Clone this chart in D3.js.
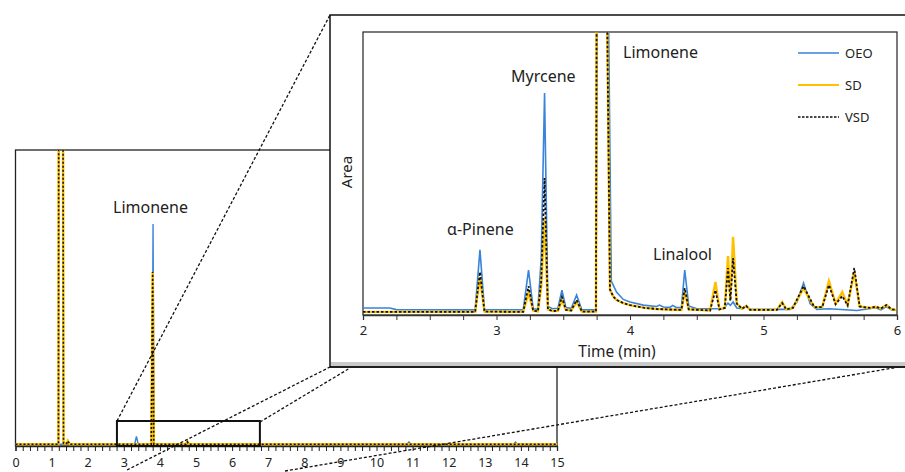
<!DOCTYPE html>
<html><head><meta charset="utf-8">
<script src="https://cdn.jsdelivr.net/npm/d3@7"></script>
<style>body{margin:0;background:#fff}svg{display:block}</style>
</head><body>
<svg id="c" width="905" height="472"></svg>
<script>
// ---------- data ----------
const seriesNames = ["OEO", "SD", "VSD"];
const mainTicks = [0,1,2,3,4,5,6,7,8,9,10,11,12,13,14,15];
const insetTicks = [2,3,4,5,6];
const zoomWindow = [2.81, 6.77];

// main chromatogram (time min, area %)
const oeoMain = [[0,0.6],[3.3,0.6],[3.35,3.2],[3.4,0.6],[3.78,0.6],[3.81,75],[3.84,0.6],[10.85,0.6],[10.9,1.4],[10.95,0.6],[13.8,0.6],[13.85,1.3],[13.9,0.6],[15,0.6]];
const sdMain  = [[0,0.6],[1.19,0.6],[1.2,160],[1.31,160],[1.33,0.9],[1.42,0.9],[1.45,1.7],[1.5,0.6],[3.76,0.6],[3.8,58.8],[3.83,0.6],[4.72,0.6],[4.76,1.5],[4.8,0.6],[15,0.6]];
const vsdMain = [[0,0.6],[1.19,0.6],[1.2,160],[1.31,160],[1.33,0.9],[1.42,0.9],[1.45,1.7],[1.5,0.6],[3.76,0.6],[3.8,58.8],[3.83,0.6],[4.72,0.6],[4.76,1.4],[4.8,0.6],[15,0.6]];

// inset chromatogram (time min, area %)
const oeoInset = [[2.0,2.5],[2.2,2.5],[2.25,1.9],[2.84,1.8],[2.876,23.0],[2.91,1.9],[3.2,1.8],[3.24,15.9],[3.275,2.2],[3.31,2.0],[3.335,20],[3.36,78.4],[3.385,3],[3.42,2.2],[3.46,2.4],[3.49,8.8],[3.52,2.6],[3.56,2.4],[3.60,7.1],[3.64,1.8],[3.745,1.8],[3.755,110],[3.838,110],[3.86,12],[3.9,8],[3.95,5.5],[4.0,4.6],[4.1,3.5],[4.2,3.0],[4.22,3.5],[4.25,2.8],[4.3,2.7],[4.32,3.4],[4.35,2.6],[4.385,2.6],[4.41,15.9],[4.44,3.2],[4.5,2.2],[4.7,2.2],[4.734,4.2],[4.752,3.4],[4.772,4.6],[4.8,2.5],[4.84,2.2],[4.87,3.0],[4.9,2.0],[5.2,2.0],[5.25,4.5],[5.30,11.3],[5.35,4.0],[5.4,2.0],[5.49,2.2],[5.7,1.6],[5.84,2.6],[5.88,1.8],[5.92,3.0],[5.96,1.8],[6.0,1.8]];
const sdInset = [[2.0,1.1],[2.84,1.1],[2.876,13.4],[2.91,1.2],[3.2,1.1],[3.24,7.8],[3.275,1.5],[3.31,1.3],[3.335,10],[3.36,34.3],[3.385,2],[3.42,1.4],[3.46,1.5],[3.49,5.3],[3.52,1.8],[3.56,1.6],[3.60,4.6],[3.64,1.2],[3.745,1.2],[3.75,110],[3.828,110],[3.85,9],[3.875,6.5],[3.9,5.3],[3.95,4.2],[4.0,3.5],[4.1,2.6],[4.2,2.1],[4.385,1.8],[4.41,8.1],[4.44,2.0],[4.6,1.6],[4.64,11.7],[4.67,2.0],[4.71,2.5],[4.734,20.8],[4.752,5.3],[4.772,27.6],[4.8,4],[4.84,2.2],[4.87,3.2],[4.9,1.8],[5.1,1.8],[5.14,4.6],[5.17,2.0],[5.22,2.5],[5.30,9.5],[5.38,2.8],[5.44,2.8],[5.49,12.0],[5.54,4.0],[5.59,8.1],[5.63,3.5],[5.68,15.2],[5.72,3.0],[5.8,2.5],[5.84,2.9],[5.88,2.3],[5.92,3.5],[5.96,2.0],[6.0,1.8]];
const vsdInset = [[2.0,1.1],[2.84,1.1],[2.876,15.2],[2.91,1.2],[3.2,1.1],[3.24,10.2],[3.275,1.5],[3.31,1.3],[3.335,12],[3.36,48.4],[3.385,2],[3.42,1.4],[3.46,1.5],[3.49,6.4],[3.52,1.8],[3.56,1.6],[3.60,5.3],[3.64,1.2],[3.745,1.2],[3.75,110],[3.828,110],[3.85,9],[3.875,6.5],[3.9,5.3],[3.95,4.2],[4.0,3.5],[4.1,2.6],[4.2,2.1],[4.385,1.8],[4.41,9.5],[4.44,2.0],[4.6,1.6],[4.64,8.8],[4.67,2.0],[4.71,2.5],[4.734,16.6],[4.752,5.0],[4.772,20.1],[4.8,4],[4.84,2.2],[4.87,3.2],[4.9,1.8],[5.1,1.8],[5.14,4.2],[5.17,2.0],[5.22,2.5],[5.30,10.2],[5.38,2.8],[5.44,2.8],[5.49,10.6],[5.54,3.8],[5.59,6.7],[5.63,3.4],[5.68,16.6],[5.72,3.0],[5.8,2.5],[5.84,2.9],[5.88,2.3],[5.92,3.5],[5.96,2.0],[6.0,1.8]];

const peakLabels = ["Myrcene", "Limonene", "α-Pinene", "Linalool"];

// ---------- styles ----------
const colors = {OEO:"#3A82DA", SD:"#FFC000", VSD:"#111"};
const FONT = "'Noto Sans', 'Open Sans', sans-serif";
const svg = d3.select("#c");
svg.append("rect").attr("width",905).attr("height",472).attr("fill","#fff");

// ---------- main chart ----------
const mx = d3.scaleLinear().domain([0,15]).range([15.5,557]);
const my = d3.scaleLinear().domain([0,100]).range([446,150]);
const defs = svg.append("defs");
defs.append("clipPath").attr("id","mclip").append("rect")
  .attr("x",mx(0)).attr("y",my(100)).attr("width",mx(15)-mx(0)).attr("height",my(0)-my(100));

const main = svg.append("g");
main.append("rect").attr("x",mx(0)).attr("y",my(100)).attr("width",mx(15)-mx(0)).attr("height",my(0)-my(100))
  .attr("fill","none").attr("stroke","#222").attr("stroke-width",1.3);

const mline = d3.line().x(d=>mx(d[0])).y(d=>my(d[1]));
const mg = main.append("g").attr("clip-path","url(#mclip)");
mg.append("path").attr("d",mline(oeoMain)).attr("fill","none").attr("stroke",colors.OEO).attr("stroke-width",1.4);
mg.append("path").attr("d",mline(sdMain)).attr("fill","none").attr("stroke",colors.SD).attr("stroke-width",2.6);
mg.append("path").attr("d",mline(vsdMain)).attr("fill","none").attr("stroke",colors.VSD).attr("stroke-width",1.6).attr("stroke-dasharray","2,2");

const mAxis = main.append("g").attr("transform",`translate(0,${my(0)})`)
  .call(d3.axisBottom(mx).tickValues(d3.range(0,15.001,0.2)).tickSize(5)
    .tickFormat(d=> mainTicks.includes(Math.round(d*100)/100) ? d3.format("d")(d) : ""));
mAxis.select(".domain").attr("stroke","#222").attr("stroke-width",1.3);
mAxis.selectAll(".tick line").attr("stroke","#222").attr("stroke-width",1);
mAxis.selectAll(".tick text").attr("font-family",FONT).attr("font-size",12.5).attr("fill","#222").attr("dy","1.0em");

main.append("text").attr("x",113).attr("y",213).text("Limonene")
  .attr("font-family",FONT).attr("font-size",16).attr("fill","#222");

// zoom rectangle
main.append("rect").attr("x",mx(zoomWindow[0])).attr("y",421).attr("width",mx(zoomWindow[1])-mx(zoomWindow[0])).attr("height",my(0)-421)
  .attr("fill","none").attr("stroke","#111").attr("stroke-width",2);

// ---------- connectors ----------
const conn = [
  [[117,421],[330,15]],
  [[127,470],[330,367]],
  [[260,422],[350,368]],
  [[285,471],[905,366]]
];
svg.append("g").selectAll("line").data(conn).join("line")
  .attr("x1",d=>d[0][0]).attr("y1",d=>d[0][1]).attr("x2",d=>d[1][0]).attr("y2",d=>d[1][1])
  .attr("stroke","#111").attr("stroke-width",1.3).attr("stroke-dasharray","3,2");

// ---------- inset ----------
const inset = svg.append("g");
inset.append("rect").attr("x",330).attr("y",15).attr("width",600).attr("height",352)
  .attr("fill","#fff").attr("stroke","#111").attr("stroke-width",1.5);
inset.append("rect").attr("x",331).attr("y",362).attr("width",600).attr("height",4).attr("fill","#c9c9c9");
inset.append("line").attr("x1",330).attr("x2",905).attr("y1",367).attr("y2",367).attr("stroke","#111").attr("stroke-width",1.6);

const ix = d3.scaleLinear().domain([2,6]).range([363,897]);
const iy = d3.scaleLinear().domain([0,100]).range([315,32]);
defs.append("clipPath").attr("id","iclip").append("rect")
  .attr("x",ix(2)).attr("y",iy(100)).attr("width",ix(6)-ix(2)).attr("height",iy(0)-iy(100));

inset.append("rect").attr("x",ix(2)).attr("y",iy(100)).attr("width",ix(6)-ix(2)).attr("height",iy(0)-iy(100))
  .attr("fill","none").attr("stroke","#333").attr("stroke-width",1.3);

const iline = d3.line().x(d=>ix(d[0])).y(d=>iy(d[1]));
const ig = inset.append("g").attr("clip-path","url(#iclip)");
ig.append("path").attr("d",iline(oeoInset)).attr("fill","none").attr("stroke",colors.OEO).attr("stroke-width",1.6);
ig.append("path").attr("d",iline(sdInset)).attr("fill","none").attr("stroke",colors.SD).attr("stroke-width",2.4);
ig.append("path").attr("d",iline(vsdInset)).attr("fill","none").attr("stroke",colors.VSD).attr("stroke-width",1.8).attr("stroke-dasharray","2.5,2");

const iAxis = inset.append("g").attr("transform",`translate(0,${iy(0)})`)
  .call(d3.axisBottom(ix).tickValues(d3.range(2,6.001,0.25)).tickSize(5)
    .tickFormat(d=> insetTicks.includes(d) ? d3.format("d")(d) : ""));
iAxis.select(".domain").attr("stroke","#333").attr("stroke-width",1.3);
iAxis.selectAll(".tick line").attr("stroke","#333");
iAxis.selectAll(".tick text").attr("font-family",FONT).attr("font-size",13).attr("fill","#222").attr("dy","0.95em");

inset.append("text").attr("x",617).attr("y",357).attr("text-anchor","middle").text("Time (min)")
  .attr("font-family",FONT).attr("font-size",15.5).attr("fill","#222");
inset.append("text").attr("transform","translate(352,172) rotate(-90)").attr("text-anchor","middle").text("Area")
  .attr("font-family",FONT).attr("font-size",15).attr("fill","#222");

const lblPos = {"Myrcene":[511,82],"Limonene":[623,58],"α-Pinene":[447,235],"Linalool":[653,260]};
inset.selectAll("text.pk").data(peakLabels).join("text").attr("class","pk")
  .attr("x",d=>lblPos[d][0]).attr("y",d=>lblPos[d][1]).text(d=>d)
  .attr("font-family",FONT).attr("font-size",16).attr("fill","#222");

// legend
const lg = inset.append("g");
seriesNames.forEach((s,i)=>{
  const y = 53 + i*32;
  lg.append("line").attr("x1",798).attr("x2",839).attr("y1",y).attr("y2",y)
    .attr("stroke",colors[s]).attr("stroke-width", s==="SD"?2:1.5)
    .attr("stroke-dasharray", s==="VSD"?"2.5,1.5":null);
  lg.append("text").attr("x",845).attr("y",y+5).text(s)
    .attr("font-family",FONT).attr("font-size",13).attr("fill","#222");
});
</script>
</body></html>
